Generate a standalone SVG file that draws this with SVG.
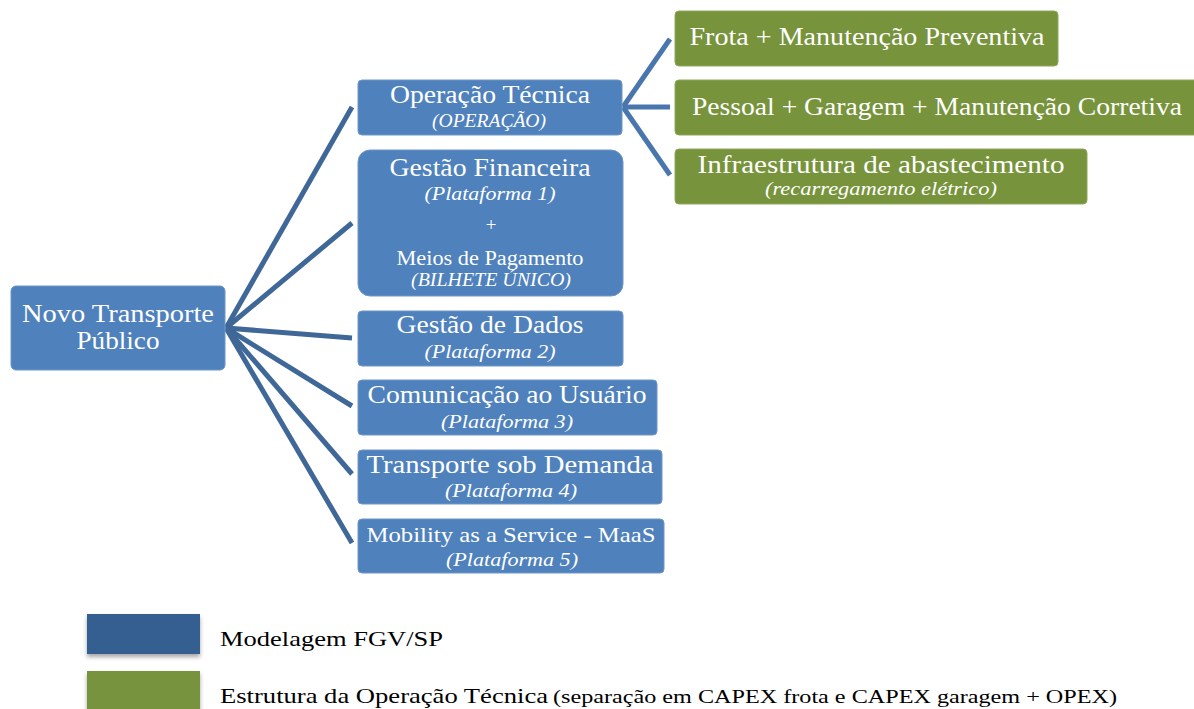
<svg xmlns="http://www.w3.org/2000/svg" width="1194" height="709" viewBox="0 0 1194 709">
<defs>
<filter id="sh" x="-10%" y="-10%" width="130%" height="140%">
<feDropShadow dx="0" dy="3" stdDeviation="2" flood-color="#000" flood-opacity="0.35"/>
</filter>
</defs>
<style>
.b{fill:#4F81BD;stroke:#6F97C8;stroke-width:1}
.g{fill:#77933C;stroke:#8EA85A;stroke-width:1}
.c{stroke:#3F6797;stroke-width:5;fill:none;stroke-linecap:butt}
.cg{stroke:#4A76AE;stroke-width:5;fill:none}
text{font-family:"Liberation Serif","DejaVu Serif",serif;fill:#fff;text-anchor:middle}
.t{font-size:25.5px}
.i{font-size:19px;font-style:italic}
.m{font-size:20px}
.lg{font-family:"Liberation Serif",serif;fill:#000;text-anchor:start;font-size:22px}
</style>
<rect width="1194" height="709" fill="#fff"/>
<g id="connectors">
<line class="c" x1="226" y1="328" x2="352" y2="107"/>
<line class="c" x1="226" y1="328" x2="352" y2="223"/>
<line class="c" x1="226" y1="328" x2="352" y2="338"/>
<line class="c" x1="226" y1="328" x2="352" y2="406"/>
<line class="c" x1="226" y1="328" x2="352" y2="474"/>
<line class="c" x1="226" y1="328" x2="352" y2="543"/>
<line class="cg" x1="623" y1="107" x2="670" y2="39"/>
<line class="cg" x1="623" y1="107" x2="670" y2="107"/>
<line class="cg" x1="623" y1="107" x2="670" y2="175"/>
</g>
<g id="root">
<rect class="b" x="11" y="286" width="214" height="84" rx="5"/>
<text class="t" x="118" y="322" textLength="192" lengthAdjust="spacingAndGlyphs">Novo Transporte</text>
<text class="t" x="118" y="349" textLength="83" lengthAdjust="spacingAndGlyphs">Público</text>
</g>
<g id="op">
<rect class="b" x="358" y="80" width="264" height="55" rx="4"/>
<text class="t" x="490" y="103" textLength="200" lengthAdjust="spacingAndGlyphs">Operação Técnica</text>
<text class="i" x="489" y="127" textLength="114" lengthAdjust="spacingAndGlyphs">(OPERAÇÃO)</text>
</g>
<g id="fin">
<rect class="b" x="358" y="150" width="265" height="146" rx="12"/>
<text class="t" x="490" y="176" textLength="201" lengthAdjust="spacingAndGlyphs">Gestão Financeira</text>
<text class="i" x="490" y="200" textLength="131" lengthAdjust="spacingAndGlyphs">(Plataforma 1)</text>
<text class="i" x="491" y="231">+</text>
<text class="m" x="490" y="265" textLength="187" lengthAdjust="spacingAndGlyphs">Meios de Pagamento</text>
<text class="i" x="491" y="286" textLength="160" lengthAdjust="spacingAndGlyphs">(BILHETE ÚNICO)</text>
</g>
<g id="dados">
<rect class="b" x="358" y="311" width="265" height="55" rx="4"/>
<text class="t" x="490" y="333" textLength="187" lengthAdjust="spacingAndGlyphs">Gestão de Dados</text>
<text class="i" x="490" y="358" textLength="131" lengthAdjust="spacingAndGlyphs">(Plataforma 2)</text>
</g>
<g id="com">
<rect class="b" x="358" y="380" width="299" height="55" rx="4"/>
<text class="t" x="507" y="403" textLength="279" lengthAdjust="spacingAndGlyphs">Comunicação ao Usuário</text>
<text class="i" x="507" y="428" textLength="132" lengthAdjust="spacingAndGlyphs">(Plataforma 3)</text>
</g>
<g id="tsd">
<rect class="b" x="358" y="450" width="304" height="54" rx="4"/>
<text class="t" x="510" y="473" textLength="287" lengthAdjust="spacingAndGlyphs">Transporte sob Demanda</text>
<text class="i" x="511" y="497" textLength="132" lengthAdjust="spacingAndGlyphs">(Plataforma 4)</text>
</g>
<g id="maas">
<rect class="b" x="358" y="519" width="306" height="54" rx="4"/>
<text class="t" x="511" y="542" style="font-size:22px" textLength="289" lengthAdjust="spacingAndGlyphs">Mobility as a Service - MaaS</text>
<text class="i" x="512" y="566" textLength="132" lengthAdjust="spacingAndGlyphs">(Plataforma 5)</text>
</g>
<g id="frota">
<rect class="g" x="675" y="11" width="383" height="55" rx="4"/>
<text class="t" x="867" y="45" textLength="355" lengthAdjust="spacingAndGlyphs">Frota + Manutenção Preventiva</text>
</g>
<g id="pessoal">
<rect class="g" x="675" y="80" width="525" height="55" rx="4"/>
<text class="t" x="937" y="115" textLength="490" lengthAdjust="spacingAndGlyphs">Pessoal + Garagem + Manutenção Corretiva</text>
</g>
<g id="infra">
<rect class="g" x="675" y="149" width="412" height="55" rx="4"/>
<text class="t" x="881" y="173" textLength="367" lengthAdjust="spacingAndGlyphs">Infraestrutura de abastecimento</text>
<text class="i" x="881" y="195" textLength="232" lengthAdjust="spacingAndGlyphs">(recarregamento elétrico)</text>
</g>
<g id="legend">
<rect x="87" y="614" width="113" height="40" fill="#365F91" filter="url(#sh)"/>
<text class="lg" x="220" y="646" textLength="223" lengthAdjust="spacingAndGlyphs">Modelagem FGV/SP</text>
<rect x="87" y="671" width="113" height="42" fill="#77933C" filter="url(#sh)"/>
<text class="lg" x="220" y="703" textLength="328" lengthAdjust="spacingAndGlyphs">Estrutura da Operação Técnica</text>
<text class="lg" x="553" y="703" style="font-size:19px" textLength="564" lengthAdjust="spacingAndGlyphs">(separação em CAPEX frota e CAPEX garagem + OPEX)</text>
</g>
</svg>
